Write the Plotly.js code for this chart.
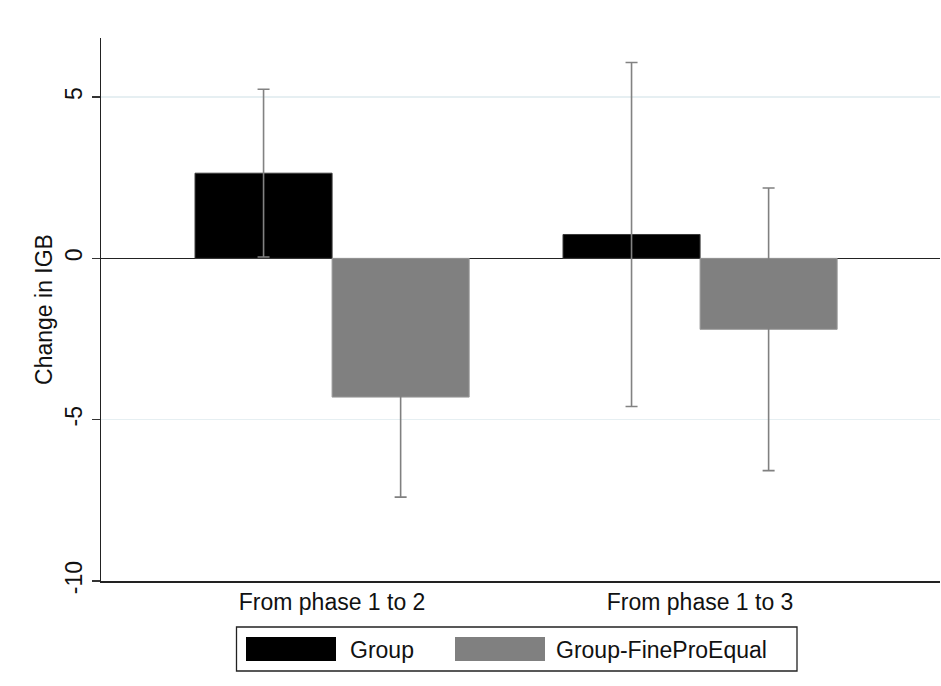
<!DOCTYPE html>
<html>
<head>
<meta charset="utf-8">
<script src="https://cdn.plot.ly/plotly-3.0.1.min.js"></script>
<style>html,body{margin:0;padding:0;background:#fff;}#chart{width:941px;height:686px;}</style>
</head>
<body>
<div id="chart"></div>
<script>
const categories = ['From phase 1 to 2', 'From phase 1 to 3'];
const seriesNames = ['Group', 'Group-FineProEqual'];
const groupValues = [2.64, 0.74];
const groupErrors = [2.6, 5.33];
const fineValues = [-4.3, -2.2];
const fineErrors = [3.1, 4.38];
const yTicks = [-10, -5, 0, 5];
const yTickLabels = ['-10', '-5', '0', '5'];

const FONT = '"Liberation Sans", Arial, Helvetica, sans-serif';
const x = categories.map((c, i) => i);

const traces = [
  {
    type: 'bar', name: seriesNames[0], x: x, y: groupValues,
    marker: {color: '#000000', line: {color: '#3a3a3a', width: 1}},
    error_y: {type: 'data', array: groupErrors, visible: true, color: '#828282', thickness: 1.6, width: 6}
  },
  {
    type: 'bar', name: seriesNames[1], x: x, y: fineValues,
    marker: {color: '#808080', line: {color: '#9a9a9a', width: 1}},
    error_y: {type: 'data', array: fineErrors, visible: true, color: '#808080', thickness: 1.6, width: 6}
  }
];

function px(v){ return (v - 101) / 839; }
function py(v){ return (581 - v) / 543; }

const layout = {
  width: 941, height: 686,
  margin: {l: 101, r: 1, t: 38, b: 105, pad: 0},
  paper_bgcolor: '#ffffff', plot_bgcolor: '#ffffff',
  font: {family: FONT, size: 23, color: '#111111'},
  showlegend: false,
  barmode: 'group', bargap: 0.255, bargroupgap: 0,
  xaxis: {
    range: [-0.628, 1.652], tickvals: x, ticktext: categories,
    showline: true, linecolor: '#222222', linewidth: 1.5,
    showgrid: false, zeroline: false, ticks: '', fixedrange: true,
    tickfont: {family: FONT, size: 23, color: '#111111'}
  },
  yaxis: {
    range: [-10, 6.83], tickvals: yTicks, ticktext: yTickLabels,
    tickangle: -90, ticks: 'outside', ticklen: 8, tickwidth: 1.5, tickcolor: '#333333',
    showline: true, linecolor: '#222222', linewidth: 1.5,
    showgrid: true, gridcolor: '#e6eff2', gridwidth: 1.2,
    zeroline: true, zerolinecolor: '#222222', zerolinewidth: 1.3,
    tickfont: {family: FONT, size: 23, color: '#111111'},
    title: {text: 'Change in IGB', font: {family: FONT, size: 23, color: '#111111'}, standoff: 2}
  },
  shapes: [
    {type: 'rect', xref: 'paper', yref: 'paper', x0: px(236.5), x1: px(797), y0: py(671), y1: py(627),
     line: {color: '#222222', width: 1.3}, fillcolor: 'rgba(0,0,0,0)'},
    {type: 'rect', xref: 'paper', yref: 'paper', x0: px(246), x1: px(336), y0: py(661), y1: py(637),
     line: {color: '#000000', width: 0}, fillcolor: '#000000'},
    {type: 'rect', xref: 'paper', yref: 'paper', x0: px(455), x1: px(545), y0: py(661), y1: py(637),
     line: {color: '#808080', width: 0}, fillcolor: '#808080'}
  ],
  annotations: [
    {xref: 'paper', yref: 'paper', x: px(348), y: py(650), xanchor: 'left', yanchor: 'middle',
     text: seriesNames[0], showarrow: false, font: {family: FONT, size: 23, color: '#111111'}},
    {xref: 'paper', yref: 'paper', x: px(554), y: py(650), xanchor: 'left', yanchor: 'middle',
     text: seriesNames[1], showarrow: false, font: {family: FONT, size: 23, color: '#111111'}}
  ]
};

Plotly.newPlot('chart', traces, layout, {displayModeBar: false, staticPlot: true});
</script>
</body>
</html>
